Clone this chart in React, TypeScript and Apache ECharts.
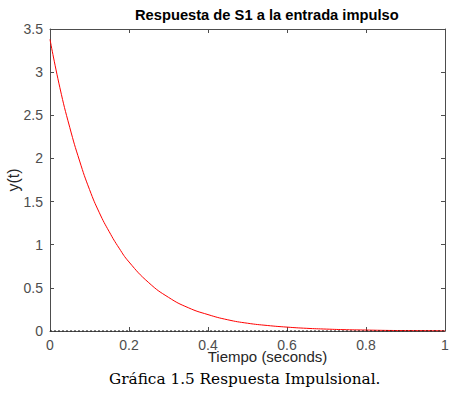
import React, { useEffect, useRef } from "react";
import * as echarts from "echarts";

const titleText = "Respuesta de S1 a la entrada impulso";
const xName = "Tiempo (seconds)";
const yName = "y(t)";
const caption = "Gráfica 1.5 Respuesta Impulsional.";

const timeValues = [0, 0.025, 0.05, 0.075, 0.1, 0.125, 0.15, 0.175, 0.2, 0.25, 0.3, 0.35, 0.4, 0.45, 0.5, 0.55, 0.6, 0.65, 0.7, 0.75, 0.8, 0.85, 0.9, 0.95, 1.0];
const responseValues = [3.38, 2.82, 2.36, 1.97, 1.64, 1.37, 1.15, 0.96, 0.8, 0.56, 0.39, 0.27, 0.19, 0.13, 0.09, 0.064, 0.045, 0.031, 0.022, 0.015, 0.011, 0.007, 0.005, 0.004, 0.002];
const zeroLine = [[0, 0], [1, 0]];

export default function App() {
  const ref = useRef<HTMLDivElement>(null);
  useEffect(() => {
    document.body.style.margin = "0";
    const chart = echarts.init(ref.current!, null, { renderer: "svg" });
    const axisColor = "#4d4d4d";
    const sans = "Liberation Sans, Arial, sans-serif";
    const labelStyle = { color: "#4d4d4d", fontSize: 14, fontFamily: sans };
    chart.setOption({
      animation: false,
      backgroundColor: "#ffffff",
      title: {
        text: titleText,
        left: 130,
        top: 2,
        textStyle: { fontSize: 14.7, fontWeight: "bold", color: "#000", fontFamily: sans },
      },
      grid: { left: 50, right: 13, top: 29, bottom: 65, outerBoundsMode: "none", containLabel: false },
      xAxis: [
        {
          type: "value", min: 0, max: 1, interval: 0.2, position: "bottom",
          name: xName, nameLocation: "middle", nameGap: 18, nameMoveOverlap: false,
          nameTextStyle: { color: "#262626", fontSize: 15, fontFamily: sans, padding: [0, 0, 0, 40] },
          axisLine: { show: true, onZero: false, lineStyle: { color: axisColor } },
          axisTick: { show: true, inside: true, length: 4, lineStyle: { color: axisColor } },
          axisLabel: { ...labelStyle, margin: 7, formatter: (v: number) => String(+v.toFixed(1)) },
          splitLine: { show: false },
        },
        {
          type: "value", min: 0, max: 1, interval: 0.2, position: "top",
          axisLine: { show: true, onZero: false, lineStyle: { color: axisColor } },
          axisTick: { show: true, inside: true, length: 4, lineStyle: { color: axisColor } },
          axisLabel: { show: false },
          splitLine: { show: false },
        },
      ],
      yAxis: [
        {
          type: "value", min: 0, max: 3.5, interval: 0.5, position: "left",
          name: yName, nameLocation: "middle", nameGap: 29, nameRotate: 90, nameMoveOverlap: false,
          nameTextStyle: { color: "#262626", fontSize: 16, fontFamily: sans },
          axisLine: { show: true, onZero: false, lineStyle: { color: axisColor } },
          axisTick: { show: true, inside: true, length: 4, lineStyle: { color: axisColor } },
          axisLabel: { ...labelStyle, margin: 7 },
          splitLine: { show: false },
        },
        {
          type: "value", min: 0, max: 3.5, interval: 0.5, position: "right",
          axisLine: { show: true, onZero: false, lineStyle: { color: axisColor } },
          axisTick: { show: true, inside: true, length: 4, lineStyle: { color: axisColor } },
          axisLabel: { show: false },
          splitLine: { show: false },
        },
      ],
      graphic: [
        {
          type: "text", left: 109, top: 371,
          style: { text: caption, fontSize: 15.3, fontFamily: "DejaVu Serif, Georgia, serif", fill: "#000" },
        },
      ],
      series: [
        {
          type: "line", name: "y(t)",
          data: timeValues.map((t, i) => [t, responseValues[i]]),
          smooth: true, showSymbol: false,
          lineStyle: { color: "#ff0000", width: 1 },
          z: 3,
        },
        {
          type: "line", name: "zero",
          data: zeroLine, showSymbol: false,
          lineStyle: { color: "#000", width: 1, type: [2, 2] },
          z: 4,
        },
      ],
    });
    return () => chart.dispose();
  }, []);
  return <div ref={ref} style={{ width: 458, height: 396 }} />;
}
